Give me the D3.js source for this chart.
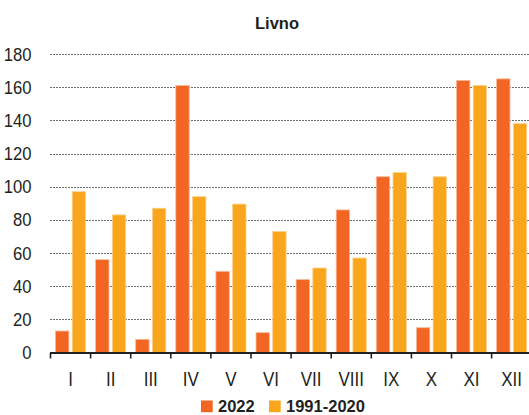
<!DOCTYPE html>
<html>
<head>
<meta charset="utf-8">
<script src="https://cdn.jsdelivr.net/npm/d3@7"></script>
<style>
  html, body { margin: 0; padding: 0; background: #fff; }
  svg { display: block; font-family: "Liberation Sans", Arial, sans-serif; }
</style>
</head>
<body>
<svg id="chart" width="529" height="415"></svg>
<script>
const title = "Livno";
const months = ["I","II","III","IV","V","VI","VII","VIII","IX","X","XI","XII"];
const seriesNames = ["2022", "1991-2020"];
const values2022 = [13, 56, 8, 161, 49, 12, 44, 86, 106, 15, 164, 165];
const valuesNorm = [97, 83, 87, 94, 89.5, 73, 51, 57, 108.5, 106, 161, 138];
const yTicks = [0, 20, 40, 60, 80, 100, 120, 140, 160, 180];
const colors = ["#F26522", "#F9A61C"];
const strokes = ["#F9B79A", "#FCD08A"];

const svg = d3.select("#chart");
const W = 529, H = 415;
const x0 = 50.5, step = 40.1;
const x = d3.scaleBand().domain(months).range([x0, x0 + step * months.length]).padding(0);
const xs = d3.scaleBand().domain(seriesNames).range([0, x.bandwidth()]).paddingInner(0.2).paddingOuter(0.3);
const y = d3.scaleLinear().domain([0, 180]).range([352.6, 54]);

// gridlines
svg.append("g").selectAll("line").data(yTicks.filter(d => d > 0)).join("line")
  .attr("x1", 50).attr("x2", W)
  .attr("y1", d => Math.round(y(d)) + 0.5).attr("y2", d => Math.round(y(d)) + 0.5)
  .attr("stroke", "#6e6e6e").attr("stroke-width", 1).attr("stroke-dasharray", "2,1");

// y labels
svg.append("g").selectAll("text").data(yTicks).join("text")
  .attr("text-anchor", "end")
  .attr("transform", d => `translate(31.5,${y(d) + 6.5}) scale(0.9,1)`)
  .attr("font-size", 18.5).attr("fill", "#231f20")
  .text(d => d);

// bars
const data = months.map((m, i) => ({ m, vals: [values2022[i], valuesNorm[i]] }));
const groups = svg.append("g").selectAll("g").data(data).join("g")
  .attr("transform", d => `translate(${x(d.m)},0)`);
groups.selectAll("rect").data(d => d.vals.map((v, k) => ({ v, s: seriesNames[k], k }))).join("rect")
  .attr("x", d => xs(d.s)).attr("width", xs.bandwidth())
  .attr("y", d => y(d.v)).attr("height", d => y(0) - y(d.v))
  .attr("fill", d => colors[d.k])
  .attr("stroke", d => strokes[d.k]).attr("stroke-width", 0.8);

// x axis line and ticks
svg.append("line").attr("x1", 50).attr("x2", W).attr("y1", 353).attr("y2", 353)
  .attr("stroke", "#231f20").attr("stroke-width", 2);
const tickPos = months.map(m => x(m));
svg.append("g").selectAll("line").data(tickPos).join("line")
  .attr("x1", d => d).attr("x2", d => d).attr("y1", 353).attr("y2", 358.5)
  .attr("stroke", "#231f20").attr("stroke-width", 1.6);

// x labels
svg.append("g").selectAll("text").data(months).join("text")
  .attr("text-anchor", "middle")
  .attr("transform", d => `translate(${x(d) + x.bandwidth() / 2},385.5) scale(0.87,1)`)
  .attr("font-size", 19.5).attr("fill", "#231f20")
  .text(d => d);

// title
svg.append("text").attr("x", 277).attr("y", 29).attr("text-anchor", "middle")
  .attr("font-size", 16.5).attr("font-weight", "bold").attr("fill", "#231f20").text(title);

// legend
const legendX = [201, 269];
const lg = svg.append("g").selectAll("g").data(seriesNames).join("g")
  .attr("transform", (d, i) => `translate(${legendX[i]},400.5)`);
lg.append("rect").attr("width", 11.7).attr("height", 11.7).attr("fill", (d, i) => colors[i]);
lg.append("text").attr("x", 17).attr("y", 11).attr("font-size", 16.5).attr("font-weight", "bold")
  .attr("fill", "#231f20").text(d => d);
</script>
</body>
</html>
